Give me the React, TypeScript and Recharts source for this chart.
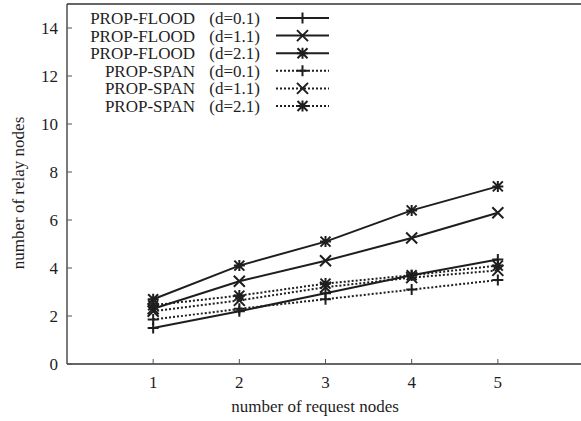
import { Legend, Line, LineChart, XAxis, YAxis } from 'recharts'

// number of request nodes
const REQUEST_NODES = [1, 2, 3, 4, 5]

// number of relay nodes, one list per curve
const FLOOD_D01 = [1.5, 2.2, 2.95, 3.7, 4.35]
const FLOOD_D11 = [2.3, 3.45, 4.3, 5.25, 6.3]
const FLOOD_D21 = [2.7, 4.1, 5.1, 6.4, 7.4]
const SPAN_D01 = [1.85, 2.3, 2.7, 3.1, 3.5]
const SPAN_D11 = [2.2, 2.65, 3.2, 3.6, 3.9]
const SPAN_D21 = [2.45, 2.85, 3.35, 3.7, 4.1]

const X_TICKS = [1, 2, 3, 4, 5]
const Y_TICKS = [0, 2, 4, 6, 8, 10, 12, 14]

type MarkerKind = 'plus' | 'cross' | 'star'

interface Series {
  key: string
  name: string
  d: string
  values: number[]
  marker: MarkerKind
  dotted: boolean
}

const SERIES: Series[] = [
  { key: 'f01', name: 'PROP-FLOOD', d: '(d=0.1)', values: FLOOD_D01, marker: 'plus', dotted: false },
  { key: 'f11', name: 'PROP-FLOOD', d: '(d=1.1)', values: FLOOD_D11, marker: 'cross', dotted: false },
  { key: 'f21', name: 'PROP-FLOOD', d: '(d=2.1)', values: FLOOD_D21, marker: 'star', dotted: false },
  { key: 's01', name: 'PROP-SPAN', d: '(d=0.1)', values: SPAN_D01, marker: 'plus', dotted: true },
  { key: 's11', name: 'PROP-SPAN', d: '(d=1.1)', values: SPAN_D11, marker: 'cross', dotted: true },
  { key: 's21', name: 'PROP-SPAN', d: '(d=2.1)', values: SPAN_D21, marker: 'star', dotted: true },
]

const data = REQUEST_NODES.map((x, i) => {
  const row: Record<string, number> = { x }
  for (const s of SERIES) row[s.key] = s.values[i]
  return row
})

const INK = '#1e1e1e'
const FONT = 'Liberation Serif, DejaVu Serif, serif'
const DASH = '2 2'

function markerPath(kind: MarkerKind, cx: number, cy: number) {
  const s = 5.5
  const plus = `M${cx - s},${cy}H${cx + s}M${cx},${cy - s}V${cy + s}`
  const c = 5
  const cross = `M${cx - c},${cy - c}L${cx + c},${cy + c}M${cx - c},${cy + c}L${cx + c},${cy - c}`
  if (kind === 'plus') return plus
  if (kind === 'cross') return `M${cx - s},${cy - s}L${cx + s},${cy + s}M${cx - s},${cy + s}L${cx + s},${cy - s}`
  return `${plus}${cross}`
}

function Marker({ cx, cy, kind }: { cx?: number; cy?: number; kind: MarkerKind }) {
  if (cx == null || cy == null) return null
  return <path d={markerPath(kind, cx, cy)} stroke={INK} strokeWidth={2} fill="none" />
}

function LegendBox() {
  const textRight = 260
  const nameRight = 195
  const x1 = 276
  const x2 = 329
  return (
    <svg width={340} height={120} style={{ overflow: 'visible', fontFamily: FONT }}>
      {SERIES.map((s, i) => {
        const y = 18 + i * 17.6
        return (
          <g key={s.key}>
            <text x={nameRight} y={y} dy="0.35em" textAnchor="end" fontSize={17} style={{ fontFamily: FONT }} fill={INK}>
              {s.name}
            </text>
            <text x={textRight} y={y} dy="0.35em" textAnchor="end" fontSize={17} style={{ fontFamily: FONT }} fill={INK}>
              {s.d}
            </text>
            <line
              x1={x1}
              x2={x2}
              y1={y}
              y2={y}
              stroke={INK}
              strokeWidth={2}
              strokeDasharray={s.dotted ? DASH : undefined}
            />
            <path d={markerPath(s.marker, (x1 + x2) / 2, y)} stroke={INK} strokeWidth={2} fill="none" />
          </g>
        )
      })}
    </svg>
  )
}

const tickStyle = { fill: INK, fontSize: 17, fontFamily: FONT }
const frame = { stroke: '#333', strokeWidth: 1.3 }
const tickMark = { stroke: '#555', strokeWidth: 1 }

export default function App() {
  return (
    <div
      style={{
        position: 'absolute',
        left: 0,
        top: 0,
        width: 581,
        height: 421,
        overflow: 'hidden',
        background: '#fff',
        fontFamily: FONT,
      }}
    >
      <LineChart
        width={587}
        height={421}
        data={data}
        margin={{ top: 3, right: 2, bottom: 0, left: 0 }}
        style={{ fontFamily: FONT }}
      >
        <XAxis
          dataKey="x"
          type="number"
          domain={[0, 6]}
          ticks={X_TICKS}
          height={57}
          tickSize={-5}
          tickMargin={17}
          tick={tickStyle}
          tickLine={tickMark}
          axisLine={frame}
          label={{
            content: () => (
              <text x={315} y={412} textAnchor="middle" fontSize={17} style={{ fontFamily: FONT }} fill={INK}>
                number of request nodes
              </text>
            ),
          }}
        />
        <XAxis
          xAxisId="top"
          orientation="top"
          dataKey="x"
          type="number"
          domain={[0, 6]}
          ticks={X_TICKS}
          height={1}
          tickSize={-5}
          tick={false}
          tickLine={tickMark}
          axisLine={frame}
        />
        <YAxis
          type="number"
          domain={[0, 15]}
          ticks={Y_TICKS}
          width={67}
          tickSize={-5}
          tickMargin={14}
          tick={tickStyle}
          tickLine={tickMark}
          axisLine={frame}
          label={{
            content: () => (
              <text
                x={24}
                y={193}
                transform="rotate(-90 24 193)"
                textAnchor="middle"
                fontSize={17}
                style={{ fontFamily: FONT }}
                fill={INK}
              >
                number of relay nodes
              </text>
            ),
          }}
        />
        <YAxis
          yAxisId="right"
          orientation="right"
          type="number"
          domain={[0, 15]}
          ticks={Y_TICKS}
          width={1}
          tickSize={-5}
          tick={false}
          tickLine={tickMark}
          axisLine={frame}
        />
        <Legend
          layout="horizontal"
          verticalAlign="middle"
          align="center"
          wrapperStyle={{ left: 0, top: 0, width: 340, height: 120 }}
          content={() => <LegendBox />}
        />
        {SERIES.map((s) => (
          <Line
            key={s.key}
            dataKey={s.key}
            name={`${s.name} ${s.d}`}
            type="linear"
            stroke={INK}
            strokeWidth={2}
            strokeDasharray={s.dotted ? DASH : undefined}
            isAnimationActive={false}
            dot={(props: { cx?: number; cy?: number; index?: number }) => (
              <Marker key={`${s.key}-${props.index}`} cx={props.cx} cy={props.cy} kind={s.marker} />
            )}
            activeDot={false}
          />
        ))}
      </LineChart>
    </div>
  )
}
